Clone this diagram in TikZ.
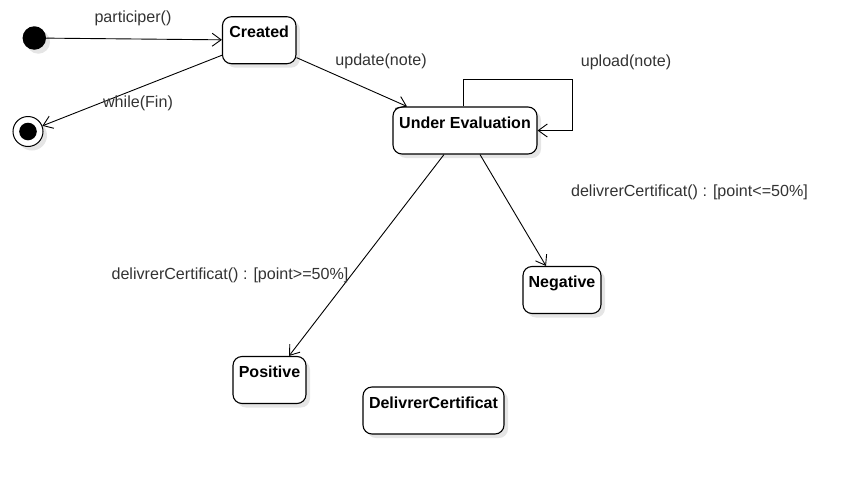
\documentclass[tikz,border=0pt]{standalone}
\usepackage{fontspec}
\setmainfont{Liberation Sans}
\usetikzlibrary{arrows.meta,shadows}
\begin{document}
\begin{tikzpicture}[x=1pt,y=-1pt,
  shadowed/.style={drop shadow={shadow xshift=4pt,shadow yshift=-4pt,fill=black!10,opacity=1}},
  state/.style={draw,fill=white,rounded corners=9pt,line width=1.1pt,shadowed,
    font=\bfseries\fontsize{16}{18}\selectfont,inner xsep=0pt,inner ysep=0pt,
    text height=21pt,text depth=26pt,minimum height=47pt},
  lbl/.style={font=\fontsize{16.1}{18}\selectfont,text=black!80,inner sep=0pt},
  tr/.style={draw,line width=0.9pt,-{Straight Barb[length=9pt,width=13pt,line width=0.9pt]}},
]
\useasboundingbox (0,0) rectangle (857,485);
% states
\node[circle,fill=black,minimum size=23.5pt,inner sep=0pt,shadowed] (init) at (34.3,38) {};
\node[circle,draw,fill=white,line width=1pt,minimum size=30pt,inner sep=0pt,shadowed,
      path picture={\fill[black] (path picture bounding box.center) circle (8.8pt);}] (final) at (28,131.5) {};
\node[state,minimum width=73.5pt] (created) at (259.2,40.2) {Created};
\node[state,minimum width=144pt] (ue) at (465,130.5) {Under Evaluation};
\node[state,minimum width=78pt] (neg) at (562,290) {Negative};
\node[state,minimum width=73pt] (pos) at (269.5,380) {Positive};
\node[state,minimum width=141pt] (dc) at (433.5,410.5) {DelivrerCertificat};
% transitions
\draw[tr] (init) -- (created);
\draw[tr] (created.202.5) -- (final);
\draw[tr] (created.-25.6) -- ([xshift=-58pt]ue.north);
\draw[tr] ([xshift=-2pt]ue.north) -- ++(0,-27) -- ++(109,0) |- (ue.east);
\draw[tr] ([xshift=-21pt]ue.south) -- ([xshift=19.5pt]pos.north);
\draw[tr] ([xshift=15pt]ue.south) -- ([xshift=-16pt]neg.north);
% labels
\node[lbl] (l1) at (133,18.5) {participer()};
\node[lbl] (l2) at (138,103.5) {while(Fin)};
\node[lbl] (l3) at (381,61.5) {update(note)};
\node[lbl] (l4) at (626,62.5) {upload(note)};
\node[lbl] (l5) at (230,275.5) {delivrerCertificat() : [point>=50\%]};
\node[lbl] (l6) at (689.5,192.5) {delivrerCertificat() : [point<=50\%]};
\end{tikzpicture}
\end{document}
